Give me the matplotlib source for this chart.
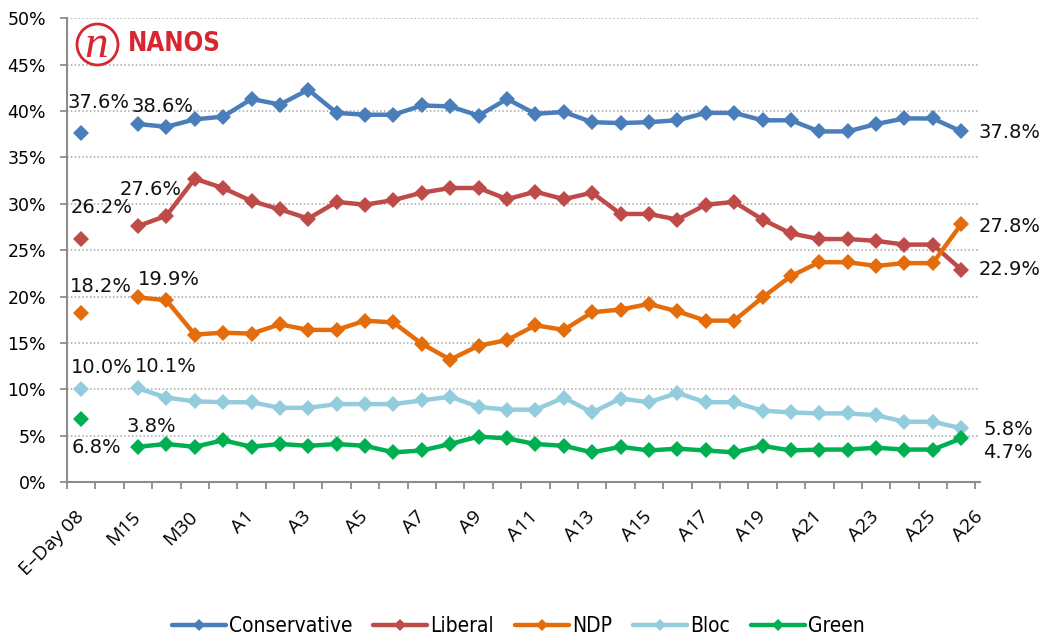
"""
Nanos daily tracking - federal vote intention, E-Day 08 to A26"""
import numpy as np
import matplotlib
matplotlib.use("Agg")
import matplotlib.pyplot as plt
from matplotlib.patches import Circle
from matplotlib.lines import Line2D
from matplotlib.font_manager import FontProperties

nan = np.nan

# one slot per category, index 1 is the empty gap after E-Day 08
categories = ["E–Day 08", "", "M15", "", "M30", "", "A1", "", "A3", "", "A5", "",
              "A7", "", "A9", "", "A11", "", "A13", "", "A15", "", "A17", "",
              "A19", "", "A21", "", "A23", "", "A25", "A26"]

conservative = [37.6, nan, 38.6, 38.3, 39.1, 39.4, 41.3, 40.7, 42.3, 39.8, 39.6, 39.6,
                40.6, 40.5, 39.5, 41.3, 39.7, 39.9, 38.8, 38.7, 38.8, 39.0, 39.8, 39.8,
                39.0, 39.0, 37.8, 37.8, 38.6, 39.2, 39.2, 37.8]
liberal = [26.2, nan, 27.6, 28.7, 32.7, 31.7, 30.3, 29.4, 28.4, 30.2, 29.9, 30.4,
           31.2, 31.7, 31.7, 30.5, 31.3, 30.5, 31.2, 28.9, 28.9, 28.3, 29.9, 30.2,
           28.3, 26.8, 26.2, 26.2, 26.0, 25.6, 25.6, 22.9]
ndp = [18.2, nan, 19.9, 19.6, 15.9, 16.1, 16.0, 17.0, 16.4, 16.4, 17.4, 17.2,
       14.9, 13.2, 14.7, 15.3, 16.9, 16.4, 18.3, 18.6, 19.2, 18.4, 17.4, 17.4,
       19.9, 22.2, 23.7, 23.7, 23.3, 23.6, 23.6, 27.8]
bloc = [10.0, nan, 10.1, 9.1, 8.7, 8.6, 8.6, 8.0, 8.0, 8.4, 8.4, 8.4,
        8.8, 9.2, 8.1, 7.8, 7.8, 9.1, 7.5, 9.0, 8.6, 9.6, 8.6, 8.6,
        7.7, 7.5, 7.4, 7.4, 7.2, 6.5, 6.5, 5.8]
green = [6.8, nan, 3.8, 4.1, 3.8, 4.5, 3.8, 4.1, 3.9, 4.1, 3.9, 3.2,
         3.4, 4.1, 4.9, 4.7, 4.1, 3.9, 3.2, 3.8, 3.4, 3.6, 3.4, 3.2,
         3.9, 3.4, 3.5, 3.5, 3.7, 3.5, 3.5, 4.7]

party_names = ["Conservative", "Liberal", "NDP", "Bloc", "Green"]
party_values = [conservative, liberal, ndp, bloc, green]
party_colors = ["#4a7ebb", "#be4b48", "#e46c0a", "#93cddd", "#00b050"]

# data labels: (series index, category index, offset in pixels)
label_spots = [
    (0, 0, (-14, 31)), (0, 2, (-6, 18)), (0, 31, (17, -1)),
    (1, 0, (-11, 32)), (1, 2, (-18, 37)), (1, 31, (17, 0)),
    (2, 0, (-11, 27)), (2, 2, (0, 18)), (2, 31, (17, -2)),
    (3, 0, (-10, 22)), (3, 2, (-3, 22)), (3, 31, (22, -1)),
    (4, 0, (-10, -29)), (4, 2, (-11, 20)), (4, 31, (22, -14)),
]

fig = plt.figure(figsize=(10.45, 6.37), dpi=100)
ax = fig.add_axes([0.0641, 0.2433, 0.8737, 0.728])

x = np.arange(len(categories))
for vals, col in zip(party_values, party_colors):
    ax.plot(x, vals, '-', color=col, lw=3.2, marker='D', markersize=8,
            markeredgewidth=0, solid_joinstyle='round', zorder=3)

for si, ci, (dx, dy) in label_spots:
    v = party_values[si][ci]
    ax.annotate(f"{v:.1f}%", xy=(ci, v), xytext=(dx, dy), textcoords='offset pixels',
                ha='left', va='center', fontsize=14, color='#111111',
                family='DejaVu Sans', zorder=5)

ax.set_xlim(-0.5, len(categories) - 0.5)
ax.set_ylim(0, 50)
ax.set_yticks(np.arange(0, 51, 5))
ax.set_yticklabels([f"{t}%" for t in range(0, 51, 5)], fontsize=12.5)

# labelled categories only, the last one sits a bit right like the original
shown = [i for i, c in enumerate(categories) if c]
tick_pos = [i + (0.66 if i == len(categories) - 1 else 0) for i in shown]
ax.set_xticks(tick_pos)
ax.set_xticklabels([categories[i] for i in shown], rotation=45, ha='right',
                   va='center', rotation_mode='anchor', fontsize=14,
                   family=['Open Sans', 'DejaVu Sans'])
ax.tick_params(axis='x', which='major', length=0, pad=23)
ax.set_xticks(np.arange(-0.5, len(categories), 1), minor=True)
ax.tick_params(axis='x', which='minor', length=5, width=1.3, color='#8c8c8c')
ax.tick_params(axis='y', length=5, width=1.3, color='#8c8c8c', pad=10)

for t in ax.get_yticks()[1:]:
    ax.axhline(t, color='#a6a6a6', lw=1.1, ls=(0, (1, 1.5)), zorder=1)

for s in ['top', 'right']:
    ax.spines[s].set_visible(False)
for s in ['left', 'bottom']:
    ax.spines[s].set_color('#8c8c8c')
    ax.spines[s].set_linewidth(1.5)

# Nanos logo, top left of plot
red = "#d7262f"
logo = Circle((0.975, 5.925), 0.205, transform=fig.dpi_scale_trans,
              fill=False, ec=red, lw=2.0, zorder=6)
fig.add_artist(logo)
fig.text(0.965, 5.80, "n", transform=fig.dpi_scale_trans, ha='center', va='baseline',
         fontsize=34, color=red, family=['Liberation Serif', 'DejaVu Serif'],
         style='italic')
fig.text(1.28, 5.93, "NANOS", transform=fig.dpi_scale_trans, ha='left', va='center',
         fontsize=18.5, color=red, weight='bold', stretch='condensed',
         family=['DejaVu Sans Condensed', 'DejaVu Sans'])

handles = [Line2D([], [], color=c, lw=3.2, marker='D', markersize=6.5,
                  markeredgewidth=0, solid_capstyle='round')
           for c in party_colors]
legend_font = FontProperties(family=['DejaVu Sans Condensed', 'DejaVu Sans'],
                             stretch='condensed', size=15)
fig.legend(handles, party_names, loc='center', bbox_to_anchor=(0.496, 0.017),
           ncol=5, frameon=False, prop=legend_font, handlelength=2.6,
           handletextpad=0.15, columnspacing=1.0)

fig.savefig("out.png", dpi=100)
